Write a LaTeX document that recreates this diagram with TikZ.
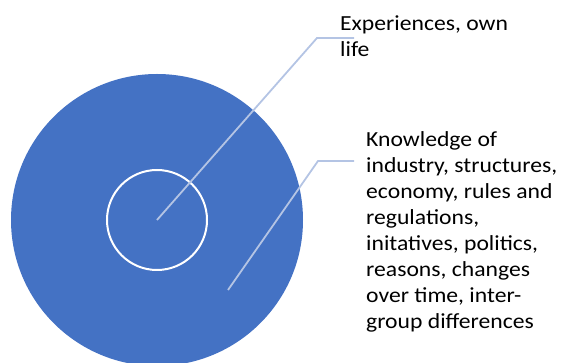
\documentclass[tikz,border=0pt]{standalone}
\usepackage{fontspec}
\setmainfont{Carlito}[FakeStretch=1.1]
\definecolor{obl}{RGB}{68,114,196}
\definecolor{leader}{RGB}{180,196,228}
\begin{document}
\begin{tikzpicture}[x=1pt,y=-1pt,
  lab/.style={anchor=base west,inner sep=0pt,align=left,
    font=\fontsize{21.5}{26}\selectfont},
  leaderline/.style={draw=leader,line width=1.8pt}]
\useasboundingbox (0,0) rectangle (563,363);
\clip (0,0) rectangle (563,363);
\node[circle,fill=obl,minimum size=292pt,inner sep=0pt] (outer) at (157,220) {};
\node[circle,draw=white,line width=2pt,minimum size=100pt,inner sep=0pt] (inner) at (157,220) {};
\node[lab] (lab1) at (340,57) {Experiences, own\\life};
\node[lab] (lab2) at (366,329) {Knowledge of\\industry, structures,\\economy, rules and\\regulations,\\initatives, politics,\\reasons, changes\\over time, inter-\\group differences};
\coordinate (k1) at (317,38);
\coordinate (e1) at (354,38);
\coordinate (p2) at (228,290);
\coordinate (k2) at (318,161);
\coordinate (e2) at (354,161);
\draw[leaderline] (inner.center) -- (k1) -- (e1);
\draw[leaderline] (p2) -- (k2) -- (e2);
\end{tikzpicture}
\end{document}
